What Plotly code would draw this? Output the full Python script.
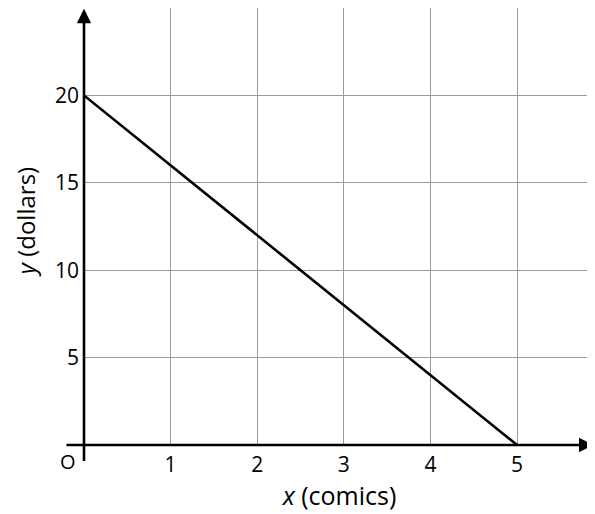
import plotly.graph_objects as go

# Data
x_vals = [0, 5]
y_vals = [20, 0]
x_ticks = [1, 2, 3, 4, 5]
x_ticktext = ["1", "2", "3", "4", "5"]
y_ticks = [5, 10, 15, 20, 25]
y_ticktext = ["5", "10", "15", "20", ""]

FONT = "Open Sans"
GRID = "#9a9a9a"

fig = go.Figure()
fig.add_trace(go.Scatter(x=x_vals, y=y_vals, mode="lines",
                         line=dict(color="black", width=2.6),
                         showlegend=False, hoverinfo="skip"))

# axis arrows
fig.add_annotation(x=0, y=24.95, ax=0, ay=-1.0, xref="x", yref="y", axref="x", ayref="y",
                   text="", showarrow=True, arrowhead=2, arrowsize=1.1, arrowwidth=2.6,
                   arrowcolor="black", standoff=0, startstandoff=0)
fig.add_annotation(x=5.88, y=0, ax=-0.22, ay=0, xref="x", yref="y", axref="x", ayref="y",
                   text="", showarrow=True, arrowhead=2, arrowsize=1.1, arrowwidth=2.6,
                   arrowcolor="black", standoff=0, startstandoff=0)
# origin label
fig.add_annotation(x=0, y=0, xref="x", yref="y", text="O", showarrow=False,
                   xanchor="right", yanchor="top", xshift=-6, yshift=-1,
                   font=dict(family=FONT, size=20, color="black"))
# y-axis title (placed as annotation so it can sit closer to the left edge)
fig.add_annotation(x=0, y=0.51, xref="paper", yref="paper", text="<i>y</i> (dollars)",
                   showarrow=False, textangle=-90, xanchor="center", yanchor="middle",
                   xshift=-59, font=dict(family=FONT, size=24, color="black"))

# page body has an 8px margin, so the figure is 8px smaller than the window
fig.update_layout(
    width=587, height=506,
    margin=dict(l=76, r=0, t=0, b=69),
    paper_bgcolor="white", plot_bgcolor="white",
    font=dict(family=FONT, color="black"),
    xaxis=dict(range=[0, 5.9], tickvals=x_ticks, ticktext=x_ticktext,
               showgrid=True, gridcolor=GRID, gridwidth=1, zeroline=False,
               showline=False, ticks="", ticklabelstandoff=5,
               tickfont=dict(family=FONT, size=21, color="black"),
               title=dict(text="<i>x</i> (comics)", standoff=3,
                          font=dict(family=FONT, size=25, color="black")),
               automargin=False, fixedrange=True),
    yaxis=dict(range=[0, 25], tickvals=y_ticks, ticktext=y_ticktext,
               showgrid=True, gridcolor=GRID, gridwidth=1, zeroline=False,
               showline=False, ticks="", ticklabelstandoff=4,
               tickfont=dict(family=FONT, size=21, color="black"),
               automargin=False, fixedrange=True),
)

fig.write_html("out.html")
